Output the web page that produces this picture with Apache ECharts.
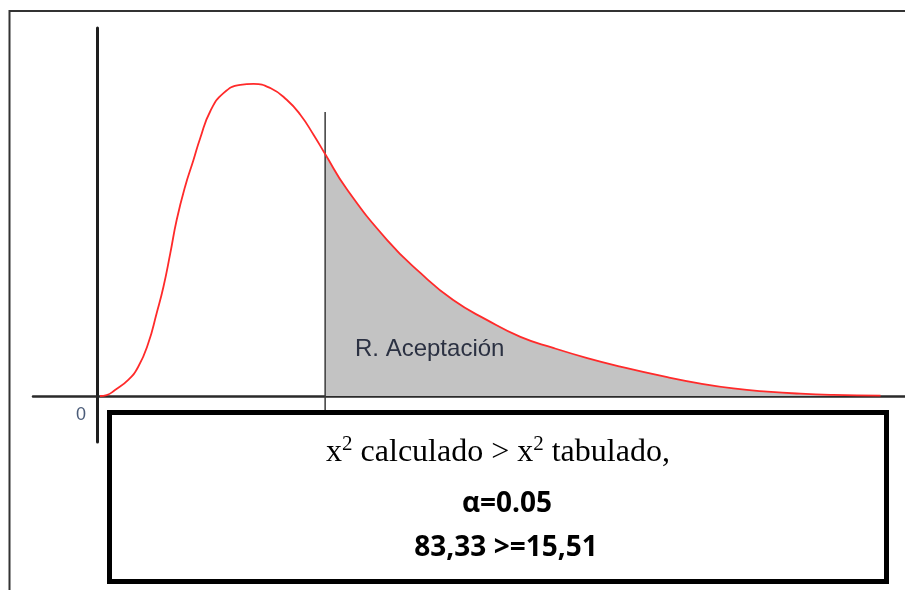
<!DOCTYPE html>
<html>
<head>
<meta charset="utf-8">
<script src="https://cdn.jsdelivr.net/npm/echarts@6/dist/echarts.min.js"></script>
<style>
html,body{margin:0;padding:0;background:#fff;}
#chart{width:905px;height:590px;}
</style>
</head>
<body>
<div id="chart"></div>
<script>
// Curve (x in arbitrary units, y = density x1000)
const xValues = [0.075, 0.24, 0.45, 0.78, 1.03, 1.28, 1.49, 1.66, 1.83, 1.99, 2.2, 2.41, 2.58, 2.83, 3.16, 3.58, 3.91, 4.33, 4.74, 5.08, 5.41, 5.7, 6.24, 7.25, 8.08, 8.9, 9.75, 10.58, 11.4, 12.25, 13.08, 14.25, 15.08, 15.9, 16.75, 17.58, 18.4, 19.58];
const yValues = [0, 0.4, 2.6, 7.0, 12.7, 22.9, 36.0, 47.5, 62.0, 76.5, 91.0, 102.6, 112.2, 123.8, 131.7, 135.3, 135.7, 133.9, 128.8, 122.3, 113.6, 105.2, 90.0, 67.8, 53.5, 41.7, 33.0, 25.7, 20.9, 16.5, 12.8, 8.2, 5.4, 3.3, 1.9, 1.0, 0.5, 0.2];
const criticalX = 5.7;
const criticalLine = [123.5, -6.1];
const regionLabel = 'R. Aceptación';
const originLabel = '0';
const boxLine1 = '{n|x}{s|2}{n| calculado > x}{s|2}{n| tabulado,}';
const boxLine2 = 'α=0.05';
const boxLine3 = '83,33 >=15,51';

const curve = xValues.map((x, i) => [x, yValues[i]]);
const shade = curve.filter(p => p[0] >= criticalX);

const chart = echarts.init(document.getElementById('chart'), null, {renderer: 'canvas'});
chart.setOption({
  animation: false,
  backgroundColor: '#fff',
  grid: {left: 33, right: 0, top: 28, bottom: 148},
  xAxis: {
    type: 'value', min: -1.6, max: 20.19,
    axisLine: {show: true, onZero: true, lineStyle: {color: '#2a2a2a', width: 2.5}},
    axisTick: {show: false}, axisLabel: {show: false}, splitLine: {show: false}
  },
  yAxis: {
    type: 'value', min: -20, max: 160,
    axisLine: {show: true, onZero: true, lineStyle: {color: '#1e1e1e', width: 3}},
    axisTick: {show: false}, axisLabel: {show: false}, splitLine: {show: false}
  },
  series: [
    {
      type: 'line', data: shade, smooth: 0.5, symbol: 'none', z: 1,
      lineStyle: {width: 0, opacity: 0},
      areaStyle: {color: '#c3c3c3', opacity: 1}
    },
    {
      type: 'line', data: criticalLine.map(v => [criticalX, v]), symbol: 'none', z: 2,
      lineStyle: {color: '#3a3a3a', width: 1.5}
    },
    {
      type: 'line', data: curve, smooth: 0.5, symbol: 'none', z: 3,
      lineStyle: {color: '#ff2a2a', width: 1.8}
    }
  ],
  graphic: [
    {type: 'rect', z: 100, silent: true,
     shape: {x: 9.5, y: 11, width: 1000, height: 1000},
     style: {fill: 'none', stroke: '#333', lineWidth: 2}},
    {type: 'text', z: 100, left: 355, top: 337,
     style: {text: regionLabel, font: '24px "Liberation Sans", Arial, sans-serif', fill: '#2b3142'}},
    {type: 'text', z: 100, x: 81, y: 415,
     style: {text: originLabel, font: '18px "Liberation Sans", Arial, sans-serif', fill: '#4a5b78', align: 'center', verticalAlign: 'middle'}},
    {type: 'rect', z: 200, silent: true,
     shape: {x: 109.5, y: 412.5, width: 777, height: 169},
     style: {fill: '#fff', stroke: '#000', lineWidth: 5}},
    {type: 'text', z: 201, x: 498, y: 453,
     style: {text: boxLine1, align: 'center', verticalAlign: 'middle', fill: '#000',
       rich: {
         n: {fontFamily: '"Liberation Serif", "Times New Roman", serif', fontSize: 32, lineHeight: 38, fill: '#000'},
         s: {fontFamily: '"Liberation Serif", "Times New Roman", serif', fontSize: 21, lineHeight: 38, verticalAlign: 'top', fill: '#000'}
       }}},
    {type: 'text', z: 201, x: 507, y: 504,
     style: {text: boxLine2, font: 'bold 28px "Open Sans", sans-serif', fill: '#000', align: 'center', verticalAlign: 'middle'}},
    {type: 'text', z: 201, x: 506, y: 548,
     style: {text: boxLine3, font: 'bold 28px "Open Sans", sans-serif', fill: '#000', align: 'center', verticalAlign: 'middle'}}
  ]
});
</script>
</body>
</html>
